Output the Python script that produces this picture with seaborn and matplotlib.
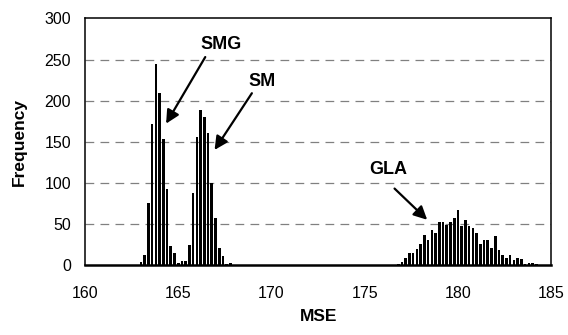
import numpy as np
import pandas as pd
import seaborn as sns
import matplotlib.pyplot as plt

# histogram of MSE values, bins 0.2 wide
smg_mse = [163.0, 163.2, 163.4, 163.6, 163.8, 164.0, 164.2, 164.4, 164.6, 164.8, 165.0]
smg_freq = [4, 12, 76, 171, 245, 209, 153, 93, 23, 14, 2]

sm_mse = [165.2, 165.4, 165.6, 165.8, 166.0, 166.2, 166.4, 166.6, 166.8, 167.0,
          167.2, 167.4, 167.6, 167.8]
sm_freq = [5, 5, 24, 88, 156, 189, 180, 160, 100, 57, 21, 11, 1, 2]

gla_mse = [176.8, 177.0, 177.2, 177.4, 177.6, 177.8, 178.0, 178.2, 178.4, 178.6,
           178.8, 179.0, 179.2, 179.4, 179.6, 179.8, 180.0, 180.2, 180.4, 180.6,
           180.8, 181.0, 181.2, 181.4, 181.6, 181.8, 182.0, 182.2, 182.4, 182.6,
           182.8, 183.0, 183.2, 183.4, 183.6, 183.8, 184.0, 184.2]
gla_freq = [1, 4, 8, 15, 15, 19, 25, 37, 31, 42,
            39, 52, 52, 49, 52, 57, 67, 48, 55, 48,
            45, 39, 26, 30, 31, 21, 35, 18, 12, 9,
            12, 6, 8, 7, 1, 3, 2, 1]

x_ticks = [160, 165, 170, 175, 180, 185]
y_ticks = [0, 50, 100, 150, 200, 250, 300]

df = pd.DataFrame({
    'MSE': np.round(smg_mse + sm_mse + gla_mse, 1),
    'Frequency': smg_freq + sm_freq + gla_freq,
})

sns.set_style('white', {'text.color': 'black', 'axes.labelcolor': 'black',
                        'xtick.color': 'black', 'ytick.color': 'black'})
plt.rcParams['font.family'] = ['Liberation Sans', 'DejaVu Sans']

fig = plt.figure(figsize=(5.68, 3.35), dpi=100)
ax = fig.add_axes([0.1496, 0.209, 0.8208, 0.736])

sns.barplot(data=df, x='MSE', y='Frequency', native_scale=True, width=0.7,
            color='black', saturation=1, linewidth=0, ax=ax)

ax.set_xlim(160, 185)
ax.set_ylim(0, 300)
ax.set_xticks(x_ticks)
ax.set_yticks(y_ticks)
ax.set_xticklabels([str(t) for t in x_ticks], fontsize=11.5)
ax.set_yticklabels([str(t) for t in y_ticks], fontsize=11.5)
ax.tick_params(axis='x', direction='out', length=4, width=1, pad=11,
               color='black', labelcolor='black')
ax.tick_params(axis='y', direction='out', length=4, width=1, pad=6,
               color='black', labelcolor='black')

for v in y_ticks[1:-1]:
    ax.axhline(v, color='#808080', lw=0.9, dashes=(7, 5), zorder=0)

for s in ax.spines.values():
    s.set_color('black')
    s.set_linewidth(1.1)
ax.spines['bottom'].set_linewidth(1.8)

ax.set_xlabel('MSE', fontsize=12.5, fontweight='bold', color='black')
ax.set_ylabel('Frequency', fontsize=12.5, fontweight='bold', color='black')
ax.xaxis.set_label_coords(0.5, -0.18)
ax.yaxis.set_label_coords(-0.125, 0.5)

arrow = dict(arrowstyle='-|>', mutation_scale=20, lw=1.6, color='black',
             shrinkA=0, shrinkB=0)
labels = [('SMG', (167.3, 268), (166.45, 253), (164.35, 172)),
          ('SM', (169.5, 223), (168.95, 209), (166.95, 140)),
          ('GLA', (176.25, 116), (176.6, 93), (178.35, 55))]
for name, txt, start, tip in labels:
    ax.text(txt[0], txt[1], name, ha='center', va='center', fontsize=13,
            fontweight='bold', color='black')
    ax.annotate('', xy=tip, xytext=start, arrowprops=arrow)

fig.savefig('out.png', dpi=100)
